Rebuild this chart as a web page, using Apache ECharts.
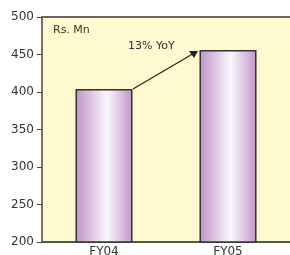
<!DOCTYPE html>
<html>
<head>
<meta charset="utf-8">
<script src="https://cdn.jsdelivr.net/npm/echarts@6/dist/echarts.min.js"></script>
<style>
  html, body { margin: 0; padding: 0; background: #fff; }
  #main { width: 290px; height: 255px; }
</style>
</head>
<body>
<div id="main"></div>
<script>
// data
var categories = ['FY04', 'FY05'];
var revenue = [404, 456];
var yTicks = [200, 250, 300, 350, 400, 450, 500];
var unitLabel = 'Rs. Mn';
var growthLabel = '13% YoY';

var chart = echarts.init(document.getElementById('main'));

var barFill = {
  type: 'linear', x: 0, y: 0, x2: 1, y2: 0,
  colorStops: [
    { offset: 0, color: '#bf92c5' },
    { offset: 0.55, color: '#fbf8fc' },
    { offset: 1, color: '#c195c7' }
  ]
};

var option = {
  animation: false,
  grid: {
    left: 42, right: 0, top: 17, bottom: 13,
    outerBoundsMode: 'none',
    containLabel: false,
    show: true,
    backgroundColor: '#fff9cf',
    borderWidth: 0
  },
  xAxis: [{
    type: 'category',
    data: categories,
    axisLine: { lineStyle: { color: '#55554a', width: 2 } },
    axisTick: { show: false },
    axisLabel: { color: '#333', fontSize: 12, fontFamily: 'DejaVu Sans', margin: 4 }
  }, {
    type: 'category',
    position: 'top',
    data: categories,
    axisLine: { show: true, lineStyle: { color: '#666', width: 2 } },
    axisTick: { show: false },
    axisLabel: { show: false }
  }],
  yAxis: {
    type: 'value',
    min: yTicks[0],
    max: yTicks[yTicks.length - 1],
    interval: 50,
    axisLine: { show: true, lineStyle: { color: '#444', width: 1.5 } },
    axisTick: { show: true, length: 5, lineStyle: { color: '#444' } },
    axisLabel: { color: '#333', fontSize: 12, fontFamily: 'DejaVu Sans', margin: 8 },
    splitLine: { show: false }
  },
  series: [{
    type: 'bar',
    data: revenue,
    barWidth: '46%',
    itemStyle: { color: barFill, borderColor: '#333', borderWidth: 1.5 }
  }]
};
chart.setOption(option);

// annotation: unit label + growth arrow from bar top to bar top
var p0 = chart.convertToPixel({ seriesIndex: 0 }, [0, revenue[0]]);
var p1 = chart.convertToPixel({ seriesIndex: 0 }, [1, revenue[1]]);
var half = 28;
chart.setOption({
  graphic: [{
    type: 'text', left: 53, top: 25,
    style: { text: unitLabel, fill: '#333', font: '11px DejaVu Sans' }
  }, {
    type: 'text', left: 128, top: 41,
    style: { text: growthLabel, fill: '#333', font: '11px DejaVu Sans' }
  }, {
    type: 'line',
    shape: { x1: p0[0] + half + 1, y1: p0[1], x2: p1[0] - half - 4, y2: p1[1] + 2 },
    style: { stroke: '#222', lineWidth: 1.2 }
  }, {
    type: 'polygon',
    shape: { points: [[p1[0] - half - 2, p1[1] + 1], [p1[0] - half - 11, p1[1] + 1], [p1[0] - half - 6, p1[1] + 8]] },
    style: { fill: '#222' }
  }]
});
</script>
</body>
</html>
